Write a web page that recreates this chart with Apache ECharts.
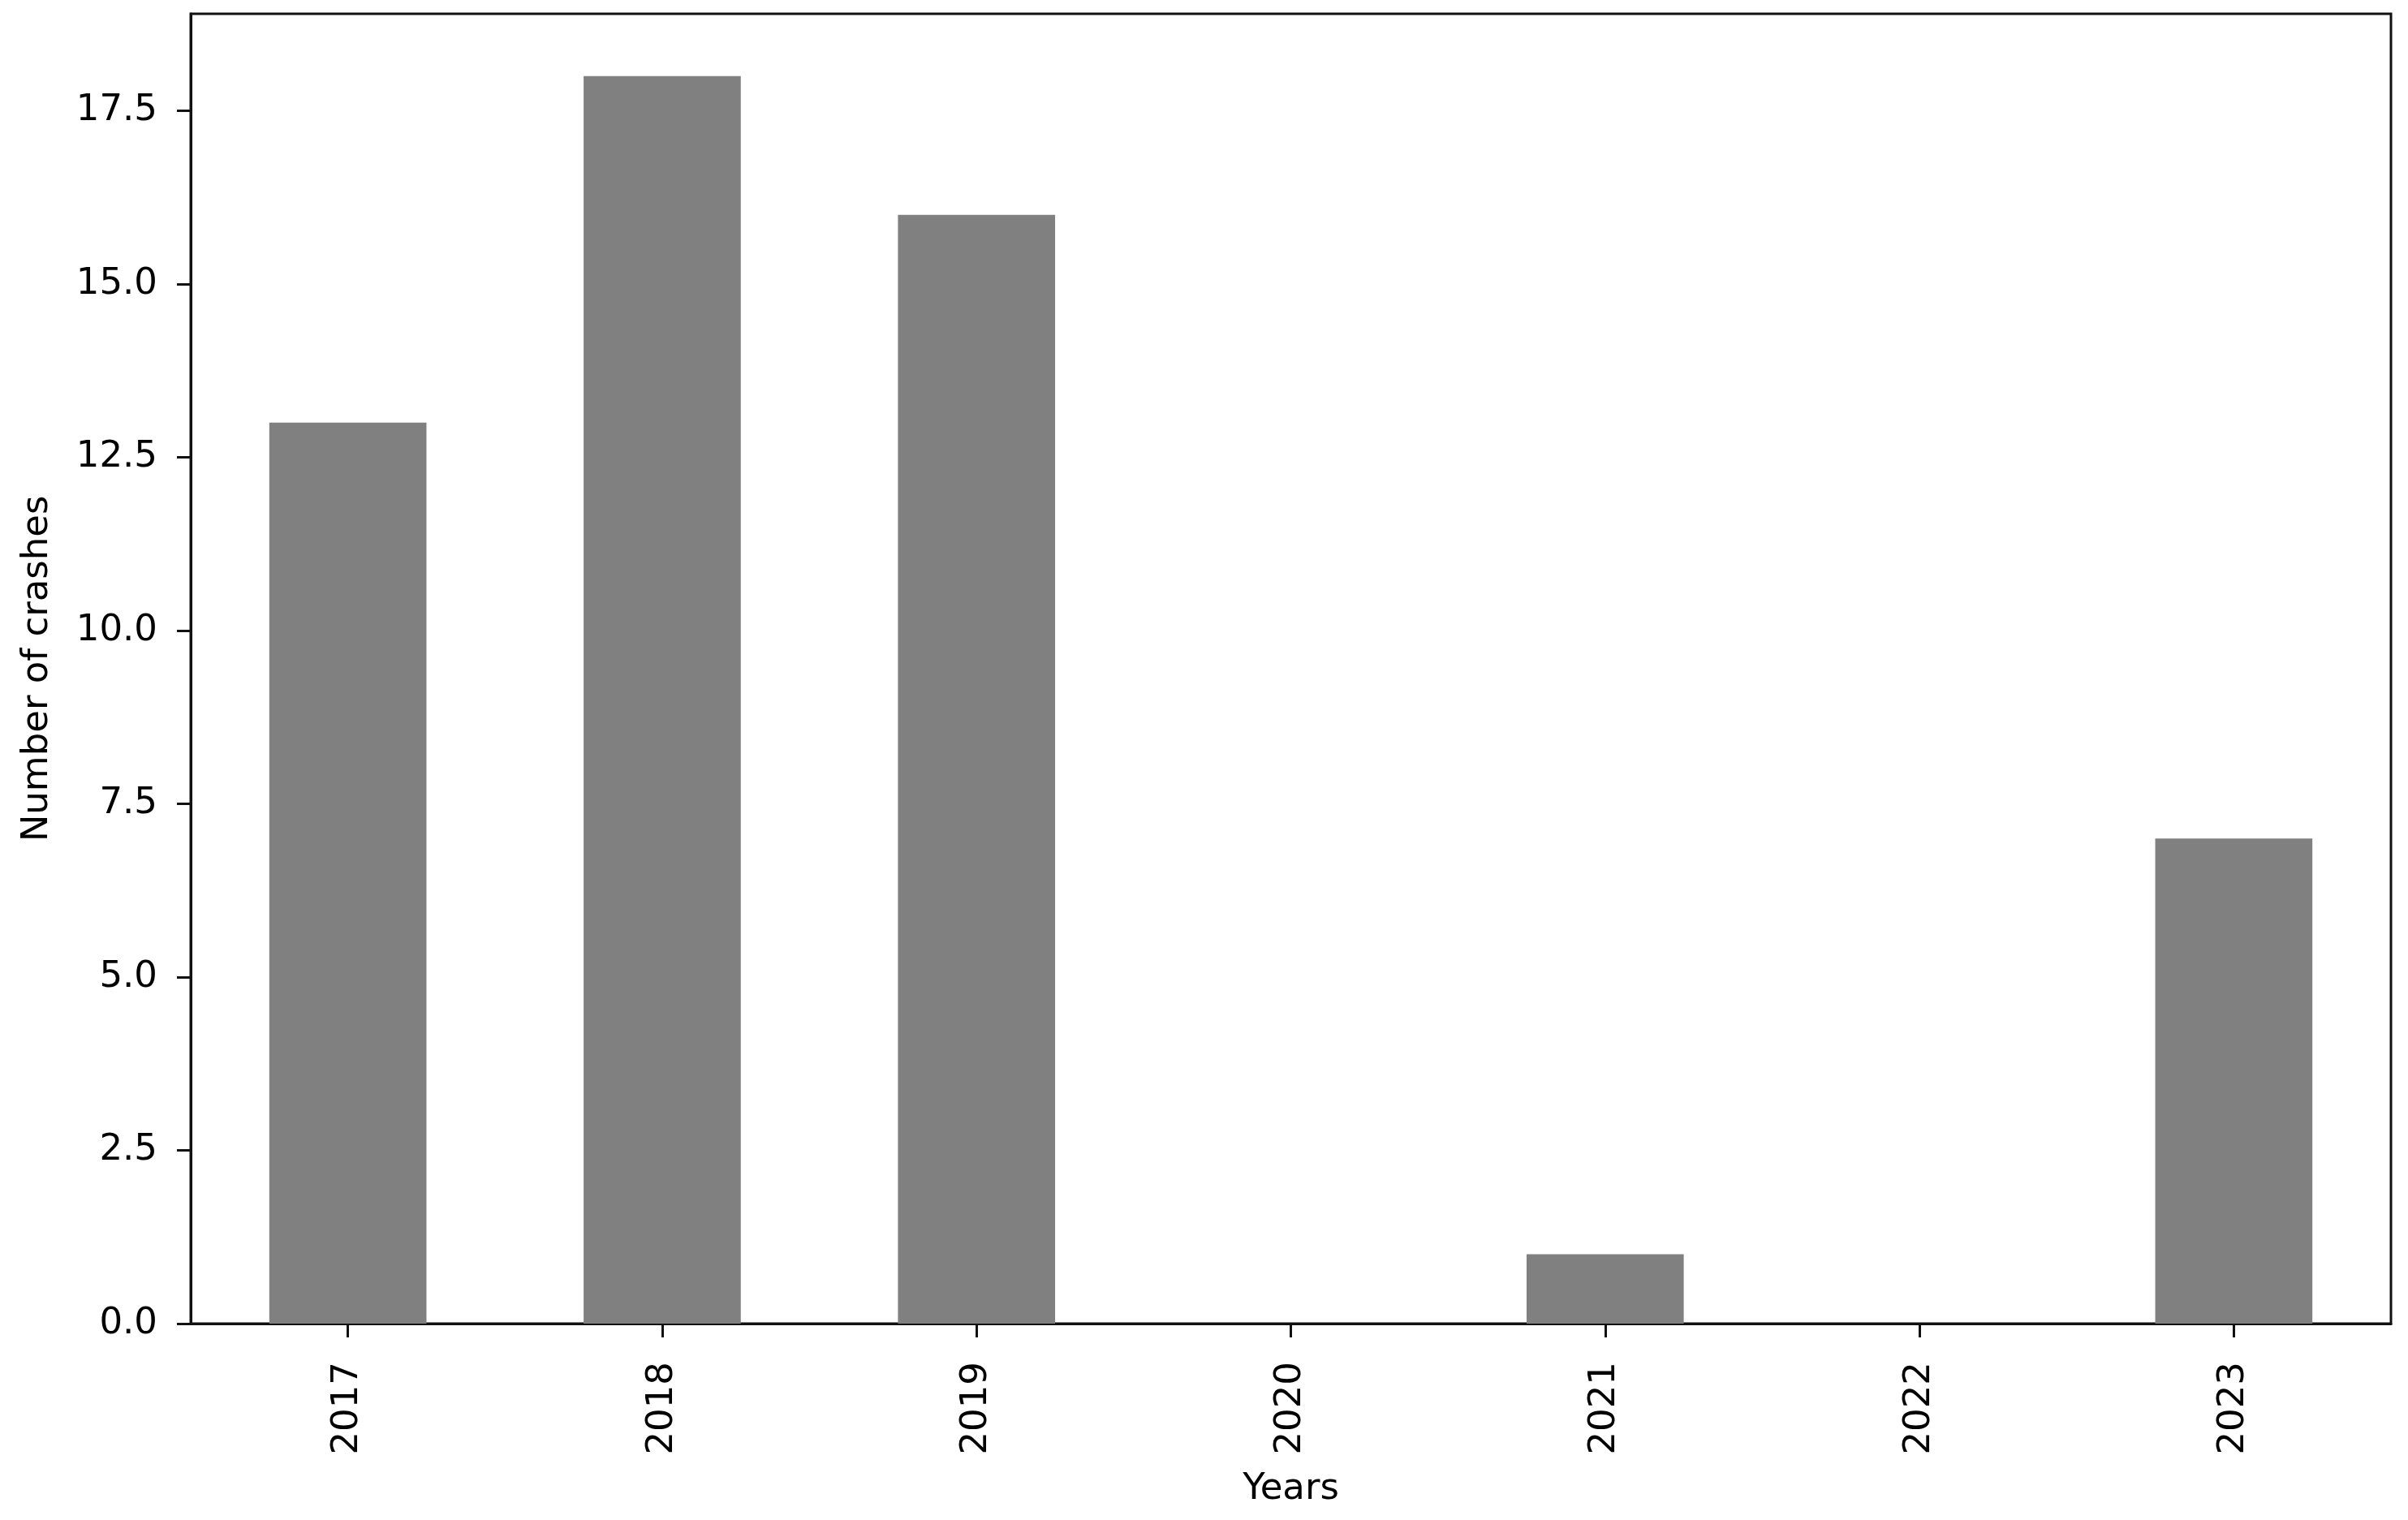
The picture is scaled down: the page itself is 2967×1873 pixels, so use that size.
<!DOCTYPE html>
<html>
<head>
<meta charset="utf-8">
<script src="https://cdn.jsdelivr.net/npm/echarts@6/dist/echarts.min.js"></script>
<style>
html,body{margin:0;padding:0;background:#fff;}
#chart{width:2967px;height:1873px;}
</style>
</head>
<body>
<div id="chart"></div>
<script>
const years = ['2017', '2018', '2019', '2020', '2021', '2022', '2023'];
const crashes = [13, 18, 16, 0, 1, 0, 7];
const yTicks = [0, 2.5, 5, 7.5, 10, 12.5, 15, 17.5];

const FONT = 'DejaVu Sans';
const chart = echarts.init(document.getElementById('chart'));
chart.setOption({
  animation: false,
  backgroundColor: '#fff',
  grid: {
    left: 235, right: 21, top: 17, bottom: 242,
    show: true, borderColor: '#111', borderWidth: 3, backgroundColor: 'transparent'
  },
  xAxis: {
    type: 'category',
    data: years,
    boundaryGap: true,
    name: 'Years',
    nameLocation: 'middle',
    nameGap: 182,
    nameTextStyle: { fontFamily: FONT, fontSize: 45, color: '#000' },
    axisLine: { show: true, lineStyle: { color: '#111', width: 3 } },
    axisTick: { show: true, alignWithLabel: true, length: 17, lineStyle: { color: '#111', width: 3 } },
    axisLabel: { rotate: 90, margin: 47, fontFamily: FONT, fontSize: 45, color: '#000' },
    splitLine: { show: false }
  },
  yAxis: {
    type: 'value',
    min: 0,
    max: 18.9,
    interval: 2.5,
    name: 'Number of crashes',
    nameLocation: 'middle',
    nameGap: 166,
    nameTextStyle: { fontFamily: FONT, fontSize: 45, color: '#000' },
    axisLine: { show: true, lineStyle: { color: '#111', width: 3 } },
    axisTick: { show: true, length: 17, customValues: yTicks, lineStyle: { color: '#111', width: 3 } },
    axisLabel: {
      customValues: yTicks,
      margin: 41, fontFamily: FONT, fontSize: 45, color: '#000',
      formatter: v => Number(v).toFixed(1)
    },
    splitLine: { show: false }
  },
  series: [{
    type: 'bar',
    data: crashes,
    barWidth: '50%',
    itemStyle: { color: '#808080' }
  }]
});
</script>
</body>
</html>
